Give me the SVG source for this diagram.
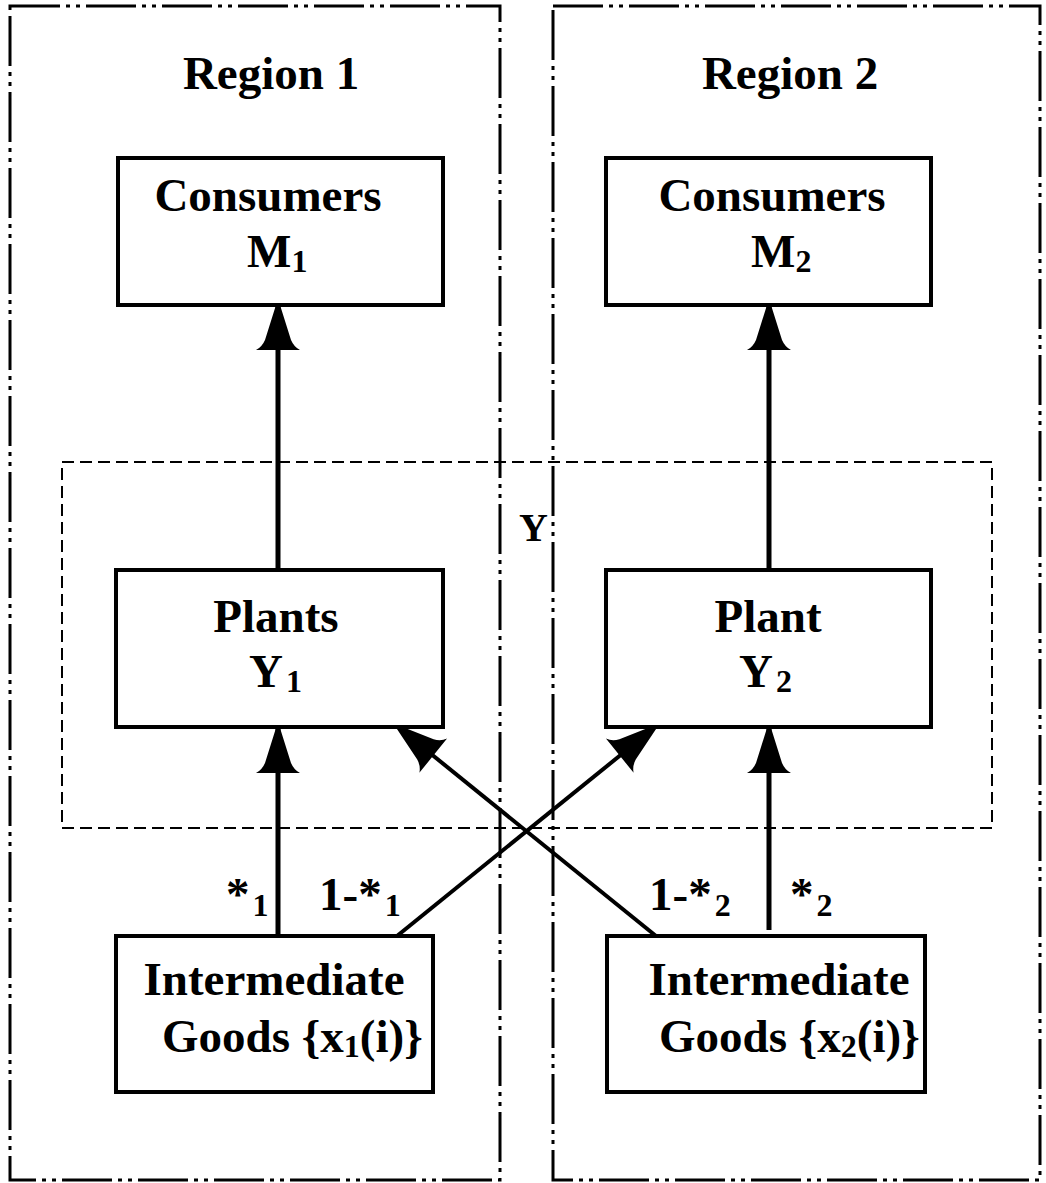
<svg xmlns="http://www.w3.org/2000/svg" width="1046" height="1183" viewBox="0 0 1046 1183">
<style>
text{font-family:"Liberation Serif","Times New Roman",serif;font-weight:bold;fill:#000}
.t{font-size:47px;text-anchor:middle}
.n{font-size:47px}
.sub{font-size:32px}
.region{fill:none;stroke:#000;stroke-width:3;stroke-dasharray:50 6 4 6 4 6}
.ydash{fill:none;stroke:#000;stroke-width:2;stroke-dasharray:12 6}
.box{fill:#fff;stroke:#000;stroke-width:4}
.conn{stroke:#000;stroke-width:5;fill:none;marker-end:url(#ah)}
.conn2{stroke:#000;stroke-width:4;fill:none;marker-end:url(#ah)}
</style>
<defs>
<marker id="ah" markerUnits="userSpaceOnUse" viewBox="-46 -23 48 46" refX="0" refY="0" markerWidth="48" markerHeight="46" orient="auto">
<path d="M1,-2 L-34,-13 Q-41,-16 -44,-22 L-44,22 Q-41,16 -34,13 L1,2 Z" fill="#000"/>
</marker>
</defs>
<rect width="1046" height="1183" fill="#fff"/>
<g id="region1"><rect class="region" x="10" y="6" width="490" height="1174"/><text class="t" x="271" y="89">Region 1</text></g>
<g id="region2"><rect class="region" x="553" y="6" width="487" height="1174"/><text class="t" x="790" y="89">Region 2</text></g>
<g id="yGroup"><rect class="ydash" x="62" y="462" width="930" height="366"/><text x="519" y="541" style="font-size:40px">Y</text></g>
<g id="connectors">
<line class="conn" x1="278" y1="570" x2="278" y2="306"/>
<line class="conn" x1="769" y1="570" x2="769" y2="306"/>
<line class="conn" x1="278" y1="936" x2="278" y2="729"/>
<line class="conn" x1="769" y1="930" x2="769" y2="729"/>
<line class="conn2" x1="397" y1="936" x2="654" y2="728"/>
<line class="conn2" x1="656" y1="936" x2="399" y2="728"/>
</g>
<g id="consumers1"><rect class="box" x="118" y="158" width="325" height="147"/><text class="t" x="268" y="211">Consumers</text><text class="n" x="247" y="267">M<tspan class="sub" dy="5">1</tspan></text></g>
<g id="consumers2"><rect class="box" x="606" y="158" width="325" height="147"/><text class="t" x="772" y="211">Consumers</text><text class="n" x="751" y="267">M<tspan class="sub" dy="5">2</tspan></text></g>
<g id="plants1"><rect class="box" x="116" y="570" width="327" height="157"/><text class="t" x="276" y="632">Plants</text><text class="n" x="249" y="687">Y<tspan class="sub" dx="3" dy="5">1</tspan></text></g>
<g id="plant2"><rect class="box" x="606" y="570" width="325" height="157"/><text class="t" x="768" y="632">Plant</text><text class="n" x="739" y="687">Y<tspan class="sub" dx="3" dy="5">2</tspan></text></g>
<g id="goods1"><rect class="box" x="116" y="936" width="317" height="156"/><text class="t" x="274" y="995">Intermediate</text><text class="n" x="162" y="1052">Goods {x<tspan class="sub" dy="5">1</tspan><tspan dy="-5">(i)}</tspan></text></g>
<g id="goods2"><rect class="box" x="607" y="936" width="318" height="156"/><text class="t" x="779" y="995">Intermediate</text><text class="n" x="659" y="1052">Goods {x<tspan class="sub" dy="5">2</tspan><tspan dy="-5">(i)}</tspan></text></g>
<g id="labels">
<text class="n" x="226" y="910">*<tspan class="sub" dx="3" dy="6">1</tspan></text>
<text class="n" x="319" y="910">1-*<tspan class="sub" dx="3" dy="6">1</tspan></text>
<text class="n" x="649" y="910">1-*<tspan class="sub" dx="3" dy="6">2</tspan></text>
<text class="n" x="790" y="910">*<tspan class="sub" dx="3" dy="6">2</tspan></text>
</g>
</svg>
